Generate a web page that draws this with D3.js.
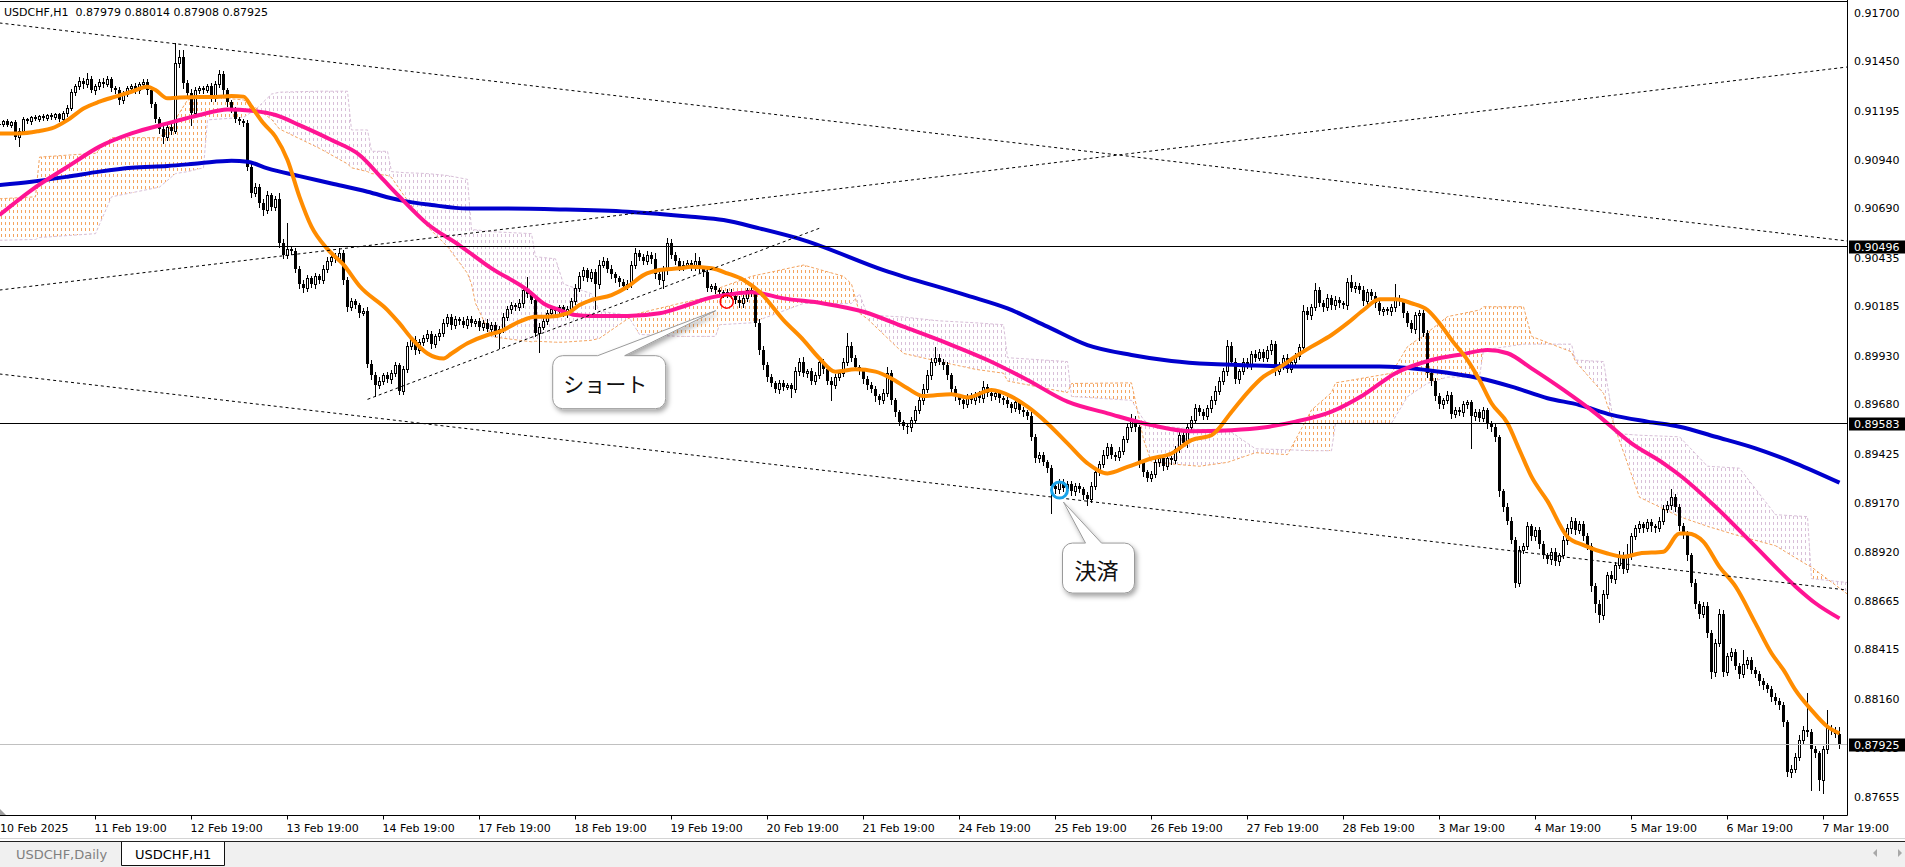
<!DOCTYPE html>
<html><head><meta charset="utf-8">
<script src="https://cdn.jsdelivr.net/npm/d3@7"></script>
<style>html,body{margin:0;padding:0;background:#fff;overflow:hidden}</style>
</head><body>
<svg id="c" width="1905" height="867"></svg>
<script>
// ---------------- DATA (prices in points: 91700 = 0.91700) ----------------
const symbol = "USDCHF,H1";
const tabs = ["USDCHF,Daily", "USDCHF,H1"];
const dateLabels = ["10 Feb 2025","11 Feb 19:00","12 Feb 19:00","13 Feb 19:00","14 Feb 19:00","17 Feb 19:00","18 Feb 19:00","19 Feb 19:00","20 Feb 19:00","21 Feb 19:00","24 Feb 19:00","25 Feb 19:00","26 Feb 19:00","27 Feb 19:00","28 Feb 19:00","3 Mar 19:00","4 Mar 19:00","5 Mar 19:00","6 Mar 19:00","7 Mar 19:00"];
const barsPerDay = 24;
const priceTicks = [91700,91450,91195,90940,90690,90435,90185,89930,89680,89425,89170,88920,88665,88415,88160,87905,87655];
const hLevels = [90496, 89583];
const firstOpen = 91120;
const closes = [
91125,91140,91120,91135,91060,91090,91150,91140,91160,91150,91165,91155,91170,91160,91175,91150,91180,91210,91290,91320,
91350,91330,91360,91300,91320,91345,91330,91360,91310,91300,91250,91280,91310,91320,91300,91330,91340,91300,91230,91150,
91100,91060,91110,91090,91440,91470,91335,91284,91180,91300,91310,91300,91320,91260,91330,91385,91300,91240,91200,91150,
91140,91130,90905,90770,90800,90720,90680,90760,90700,90740,90510,90450,90480,90470,90380,90300,90280,90330,90300,90340,
90320,90380,90420,90440,90430,90460,90320,90180,90210,90190,90150,90160,89890,89830,89780,89800,89830,89810,89840,89880,
89750,89860,89980,90010,89960,90000,90020,90040,89990,90030,90050,90100,90130,90090,90120,90110,90090,90120,90100,90110,
90080,90100,90070,90090,90050,90070,90130,90170,90190,90180,90200,90270,90250,90220,90050,90080,90110,90150,90170,90160,
90180,90150,90170,90210,90280,90340,90370,90330,90360,90300,90400,90420,90380,90350,90330,90310,90290,90300,90400,90460,
90440,90420,90450,90430,90350,90320,90370,90510,90450,90420,90390,90400,90410,90390,90420,90380,90360,90280,90290,90270,
90260,90250,90260,90240,90220,90200,90230,90270,90250,90100,89960,89880,89820,89790,89760,89790,89770,89780,89760,89850,
89900,89840,89850,89800,89830,89900,89860,89800,89780,89820,89840,89900,89980,89920,89870,89850,89810,89780,89760,89720,
89700,89740,89840,89700,89640,89590,89570,89560,89600,89650,89700,89760,89830,89900,89920,89900,89880,89830,89760,89720,
89700,89680,89720,89700,89730,89710,89770,89740,89720,89740,89710,89700,89680,89660,89690,89650,89640,89620,89510,89400,
89420,89380,89350,89260,89240,89280,89250,89270,89230,89260,89240,89210,89190,89260,89330,89370,89420,89460,89420,89410,
89440,89500,89560,89600,89560,89380,89330,89300,89320,89380,89400,89360,89400,89390,89450,89520,89480,89560,89600,89660,
89640,89620,89660,89700,89750,89800,89850,89980,89900,89810,89850,89900,89880,89940,89920,89950,89920,89960,89990,89850,
89880,89920,89860,89900,89930,89975,90160,90140,90180,90270,90200,90180,90230,90190,90220,90200,90190,90310,90280,90290,
90270,90210,90260,90240,90200,90160,90170,90160,90180,90230,90210,90150,90100,90070,90140,90150,90050,89840,89800,89720,
89680,89700,89730,89630,89650,89640,89680,89690,89620,89640,89610,89650,89580,89560,89510,89230,89150,89080,88980,88760,
88930,88950,89050,89000,89030,88960,88900,88880,88920,88870,88900,88980,89040,89080,89030,89060,89000,88950,88740,88650,
88590,88700,88800,88780,88850,88900,88830,88900,89000,89040,89060,89040,89070,89050,89040,89080,89140,89160,89200,89150,
89050,89010,88900,88760,88650,88600,88640,88500,88300,88450,88600,88300,88380,88400,88330,88290,88340,88360,88310,88290,
88250,88230,88210,88170,88150,88130,88040,87780,87800,87860,87950,88000,87990,87900,87880,87740,87900,88010,88000,87979,
87925];
const upWick = [
10,8,12,6,9,14,10,7,9,12,6,10,8,11,7,9,12,15,18,14,
20,12,30,15,10,12,18,14,10,12,16,14,12,10,18,12,20,16,14,10,
12,15,14,20,102,40,35,18,20,15,12,14,10,16,20,20,12,14,10,12,
10,14,18,16,22,14,20,18,12,16,30,20,136,18,14,12,20,16,14,18,
12,18,20,16,22,24,14,16,20,14,12,18,22,16,14,20,12,18,16,20,
14,18,22,16,20,14,18,22,16,14,20,22,18,16,14,12,20,16,14,12,
16,14,18,14,12,12,20,18,16,14,22,20,68,16,14,18,20,16,14,12,
14,12,16,20,18,22,16,14,18,20,22,18,14,16,12,14,16,22,20,24,
18,14,20,16,30,18,22,25,20,16,14,18,16,14,40,18,14,16,12,14,
12,10,14,12,10,16,14,12,20,14,18,22,16,14,12,16,14,12,10,20,
16,22,14,18,16,20,14,12,18,16,14,20,65,22,16,14,12,18,16,14,
12,16,30,18,14,12,10,14,16,20,18,22,24,20,57,18,14,16,12,14,
12,16,14,18,12,16,30,14,12,16,14,12,18,14,12,16,14,12,18,14,
16,14,12,18,14,16,12,14,16,12,14,12,16,18,20,16,22,18,14,16,
20,18,22,30,18,14,16,12,14,18,16,14,18,12,14,20,16,18,20,22,
16,14,18,20,22,18,16,32,20,16,14,18,16,14,18,16,14,18,20,14,
16,14,18,16,12,18,30,20,16,35,14,16,18,14,16,12,14,20,37,18,
14,18,16,14,18,16,14,12,18,70,16,14,12,14,18,16,14,12,16,14,
16,14,18,12,14,16,18,14,12,16,14,18,12,14,16,12,14,18,16,14,
18,16,22,14,18,16,12,14,18,16,14,20,22,18,14,20,16,14,12,16,
18,20,16,22,18,24,20,60,18,16,20,14,18,16,14,20,18,22,45,16,
14,16,18,14,20,16,22,18,16,20,24,18,16,20,18,16,71,18,16,14,
16,18,14,16,18,14,16,12,18,20,22,18,188,14,16,12,18,92,16,14,
35];
const downWick = [
8,10,6,12,14,50,8,10,12,6,9,8,11,7,10,9,8,12,10,14,
12,16,14,10,18,12,14,10,16,12,20,14,10,12,16,14,12,18,14,16,
20,34,16,18,12,20,22,18,60,16,14,12,10,14,16,12,18,20,14,16,
12,14,18,22,16,20,24,14,18,16,20,18,14,16,20,18,22,16,14,18,
16,14,18,20,16,14,18,20,14,16,18,12,20,22,60,18,16,14,20,16,
18,18,14,16,20,18,14,16,20,14,18,16,14,20,16,18,14,16,18,14,
16,18,14,16,20,82,16,14,18,16,14,18,16,20,18,100,14,16,18,14,
16,14,18,16,14,18,20,16,14,130,18,14,16,20,18,22,16,18,14,16,
18,14,16,20,18,22,40,16,14,18,20,16,14,18,16,20,18,14,16,18,
14,16,18,14,16,18,20,16,14,18,20,16,22,18,16,20,18,14,41,16,
18,14,20,16,18,14,20,16,79,18,14,16,20,18,16,14,18,20,16,22,
18,16,20,18,22,16,20,30,18,16,14,18,16,20,18,14,16,18,20,16,
18,20,16,14,18,16,20,18,16,14,18,20,16,18,14,16,20,18,16,20,
18,16,22,143,20,18,16,20,18,16,14,18,30,16,18,14,16,18,20,16,
18,16,14,20,18,22,20,18,16,14,18,20,16,18,14,16,18,20,16,14,
18,16,14,20,18,16,14,18,20,22,18,16,14,18,16,14,18,16,20,18,
16,18,14,16,20,18,16,22,18,16,14,18,16,20,18,16,14,18,16,20,
18,16,20,18,16,14,18,16,20,18,16,22,18,16,20,130,18,20,22,18,
20,18,16,22,18,16,20,18,167,20,18,16,22,18,20,24,22,20,18,21,
18,20,16,22,18,20,16,18,22,20,18,16,20,22,18,16,20,18,22,42,
32,20,22,18,20,16,22,18,20,16,18,20,16,22,18,16,20,18,22,20,
18,20,22,18,20,22,18,20,34,24,20,22,18,20,16,22,18,20,16,18,
20,18,16,20,18,22,20,20,24,20,18,22,20,210,18,50,68,18,20,16,
17];

// Moving averages (bar index, value)
const orangeBars = [0,5,10,13,17,21,25,29,33,37,39,42,45,50,54,58,61,63,66,69,72,75,78,82,86,90,97,100,103,107,111,113,117,122,125,130,134,137,142,145,148,153,157,161,165,170,173,178,182,186,190,196,201,205,209,214,219,223,227,231,238,242,248,253,257,262,267,272,277,282,288,293,298,303,308,312,316,320,324,328,333,337,341,345,349,353,357,360,363,367,370,373,377,380,383,387,392,396,402,406,410,416,420,422,426,430,434,439,443,446,449,453,457,460];
const orangeMA = [91077,91077,91090,91103,91146,91206,91241,91267,91292,91318,91301,91258,91263,91265,91265,91270,91267,91215,91129,91060,90940,90750,90596,90480,90400,90290,90166,90097,90020,89942,89916,89942,89994,90037,90054,90106,90131,90131,90149,90192,90218,90243,90286,90346,90372,90381,90389,90381,90355,90321,90260,90114,90011,89916,89848,89860,89848,89813,89762,89722,89732,89715,89753,89719,89667,89581,89478,89375,89323,89357,89400,89426,89495,89520,89640,89740,89822,89870,89926,89977,90037,90098,90166,90221,90221,90201,90166,90098,90012,89908,89805,89685,89582,89444,89306,89180,88996,88953,88910,88893,88910,88919,89013,89013,88970,88841,88740,88549,88395,88309,88205,88102,88016,87982];
const pinkBars = [0,8,17,25,33,42,50,57,63,69,75,83,90,96,100,107,115,123,132,136,140,144,148,157,165,172,178,183,188,196,206,216,226,237,247,257,267,277,288,298,308,316,324,333,341,349,358,366,372,377,383,391,399,408,416,420,429,439,449,454,460];
const pinkMA = [90656,90785,90905,91009,91077,91129,91172,91201,91194,91172,91120,91043,90966,90837,90751,90610,90500,90381,90269,90200,90166,90140,90135,90135,90149,90192,90231,90248,90258,90226,90200,90157,90080,89994,89908,89805,89693,89633,89572,89540,89546,89560,89590,89642,89728,89840,89908,89939,89960,89943,89865,89754,89633,89478,89375,89315,89151,88945,88740,88653,88575];
const blueBars = [0,8,17,25,33,42,50,58,62,67,75,83,92,100,108,117,125,140,157,173,181,190,201,221,242,252,262,272,283,293,303,313,328,345,358,370,378,387,395,403,412,420,429,439,449,460];
const blueMA = [90811,90828,90854,90880,90900,90909,90923,90936,90931,90897,90857,90819,90776,90733,90708,90690,90690,90685,90673,90647,90630,90587,90527,90372,90240,90174,90080,89985,89934,89903,89887,89880,89874,89874,89853,89814,89771,89711,89676,89625,89590,89564,89512,89452,89375,89275];

// Ichimoku cloud spans
const cloudBars = [0,9,10,24,28,40,44,47,51,52,61,64,68,70,80,87,88,92,93,97,98,101,107,112,117,118,119,123,133,134,139,141,148,150,157,160,170,179,180,188,201,211,213,215,217,226,235,244,251,252,267,268,283,286,288,300,307,314,322,328,333,334,348,352,357,362,370,371,381,383,393,394,401,404,410,420,427,435,444,452,453,462];
const spanA = [90740,90750,90955,90975,91055,91055,91150,91250,91260,91267,91250,91210,91150,91100,91000,90920,90900,90880,90870,90860,90850,90760,90596,90493,90355,90300,90200,90028,90002,90005,90000,90000,90010,90020,90120,90150,90200,90240,90280,90340,90398,90340,90300,90150,90120,89942,89900,89860,89840,89800,89740,89787,89790,89500,89380,89360,89380,89430,89420,89650,89740,89790,89840,89977,90050,90132,90166,90183,90183,90030,89950,89900,89736,89550,89200,89100,89050,89000,88950,88850,88840,88700];
const spanB = [90526,90530,90540,90560,90750,90800,90870,90880,90900,91147,91160,91200,91280,91290,91295,91295,91095,91095,90985,90985,90880,90875,90870,90860,90840,90580,90580,90570,90560,90441,90430,90300,90250,90160,90140,90040,90030,90030,90090,90100,90200,90200,90200,90250,90140,90130,90110,90100,90090,89920,89900,89720,89700,89600,89570,89550,89550,89450,89445,89440,89440,89582,89582,89719,89788,89820,89820,89960,89990,89990,89990,89908,89900,89529,89520,89512,89360,89350,89110,89100,88780,88760];

// Trend lines: [bar, price] endpoints
const trendLines = [
  [[0, 91647], [462, 90522]],
  [[0, 90269], [462, 91420]],
  [[0, 89836], [462, 88721]],
  [[92, 89705], [205, 90588]]
];
// Annotations: bar, price
const shortMark = {bar: 181.8, price: 90209, label: "ショート"};
const exitMark = {bar: 265, price: 89237, label: "決済"};

// ---------------- DRAWING ----------------
const svg = d3.select('#c');
const axisX = 1847.5, plotBottom = 815.5;
const x = d3.scaleLinear().domain([0, 460]).range([-0.5, 1839.5]);
const y = d3.scaleLinear().domain([87655, 91700]).range([796.7, 12.7]);
const fmt = v => (v / 100000).toFixed(5);
const FONT = "'DejaVu Sans', sans-serif";

const defs = svg.append('defs');
defs.append('clipPath').attr('id', 'plotClip').append('rect')
  .attr('x', 0).attr('y', 1).attr('width', 1847).attr('height', 814);
function hatch(id, color) {
  const p = defs.append('pattern').attr('id', id).attr('patternUnits', 'userSpaceOnUse')
    .attr('width', 4).attr('height', 6);
  p.append('rect').attr('x', 1).attr('y', 0).attr('width', 1).attr('height', 3).attr('fill', color);
}
hatch('hA', '#F4A460');
hatch('hB', '#D8BFD8');
const sh = defs.append('filter').attr('id', 'shadow').attr('x', '-30%').attr('y', '-30%').attr('width', '170%').attr('height', '180%');
sh.append('feDropShadow').attr('dx', 2).attr('dy', 3).attr('stdDeviation', 2.5)
  .attr('flood-color', '#000').attr('flood-opacity', 0.35);

const cloud = cloudBars.map((b, i) => ({b, a: spanA[i], s: spanB[i]}));
const mkClip = (id, gen) => defs.append('clipPath').attr('id', id).append('path').attr('d', gen(cloud));
mkClip('belowA', d3.area().x(d => x(d.b)).y0(d => y(d.a)).y1(900));
mkClip('aboveB', d3.area().x(d => x(d.b)).y0(-10).y1(d => y(d.s)));
mkClip('belowB', d3.area().x(d => x(d.b)).y0(d => y(d.s)).y1(900));
mkClip('aboveA', d3.area().x(d => x(d.b)).y0(-10).y1(d => y(d.a)));

const plot = svg.append('g').attr('clip-path', 'url(#plotClip)');

// cloud hatching
const gA = plot.append('g').attr('clip-path', 'url(#belowA)').append('g').attr('clip-path', 'url(#aboveB)');
gA.append('rect').attr('x', 0).attr('y', 0).attr('width', 1848).attr('height', 816).attr('fill', 'url(#hA)');
const gB = plot.append('g').attr('clip-path', 'url(#belowB)').append('g').attr('clip-path', 'url(#aboveA)');
gB.append('rect').attr('x', 0).attr('y', 0).attr('width', 1848).attr('height', 816).attr('fill', 'url(#hB)');
plot.append('path').attr('d', d3.line().x(d => x(d.b)).y(d => y(d.s))(cloud))
  .attr('fill', 'none').attr('stroke', '#D8BFD8').attr('stroke-width', 1).attr('stroke-dasharray', '3,2');
plot.append('path').attr('d', d3.line().x(d => x(d.b)).y(d => y(d.a))(cloud))
  .attr('fill', 'none').attr('stroke', '#F4A460').attr('stroke-width', 1).attr('stroke-dasharray', '3,2');

// candles
const bars = closes.map((c, i) => {
  const o = i ? closes[i - 1] : firstOpen;
  return {i, o, c, h: Math.max(o, c) + upWick[i], l: Math.min(o, c) - downWick[i]};
});
const cg = plot.append('g').attr('shape-rendering', 'crispEdges');
bars.forEach(d => {
  const xc = x(d.i);
  cg.append('line').attr('x1', xc).attr('x2', xc).attr('y1', Math.round(y(d.h))).attr('y2', Math.round(y(d.l)) + 1)
    .attr('stroke', '#000').attr('stroke-width', 1);
  const top = Math.round(y(Math.max(d.o, d.c))), bot = Math.round(y(Math.min(d.o, d.c)));
  if (d.c > d.o && bot - top >= 2) {
    cg.append('rect').attr('x', xc - 1).attr('y', top + 0.5).attr('width', 2).attr('height', bot - top)
      .attr('fill', '#fff').attr('stroke', '#000').attr('stroke-width', 1);
  } else {
    cg.append('rect').attr('x', xc - 1.5).attr('y', top).attr('width', 3).attr('height', Math.max(bot - top, 1))
      .attr('fill', '#000');
  }
});

// moving averages
const maLine = d3.line().x(d => x(d[0])).y(d => y(d[1])).curve(d3.curveMonotoneX);
[[blueBars, blueMA, '#0000CD'], [pinkBars, pinkMA, '#FF1493'], [orangeBars, orangeMA, '#FF8C00']].forEach(([b, v, col]) => {
  plot.append('path').attr('d', maLine(b.map((bb, i) => [bb, v[i]])))
    .attr('fill', 'none').attr('stroke', col).attr('stroke-width', 4).attr('stroke-linejoin', 'round');
});

// horizontal levels and bid line
hLevels.forEach(v => {
  plot.append('line').attr('x1', 0).attr('x2', axisX).attr('y1', Math.round(y(v)) + 0.5).attr('y2', Math.round(y(v)) + 0.5)
    .attr('stroke', '#000').attr('stroke-width', 1);
});
const last = bars[bars.length - 1];
plot.append('line').attr('x1', 0).attr('x2', axisX).attr('y1', Math.round(y(last.c)) + 0.5).attr('y2', Math.round(y(last.c)) + 0.5)
  .attr('stroke', '#c0c0c0').attr('stroke-width', 1);

// trend lines
trendLines.forEach(tl => {
  plot.append('line').attr('x1', x(tl[0][0])).attr('y1', y(tl[0][1])).attr('x2', x(tl[1][0])).attr('y2', y(tl[1][1]))
    .attr('stroke', '#000').attr('stroke-width', 1).attr('stroke-dasharray', '3,3');
});

// marker circles
const sx = x(shortMark.bar), sy = y(shortMark.price);
const ex = x(exitMark.bar), ey = y(exitMark.price);
plot.append('circle').attr('cx', sx).attr('cy', sy).attr('r', 6.5).attr('fill', 'none').attr('stroke', '#ff0000').attr('stroke-width', 1.6);
plot.append('circle').attr('cx', ex).attr('cy', ey).attr('r', 8).attr('fill', 'none').attr('stroke', '#1aa3e8').attr('stroke-width', 3);

// callouts
function callout(L, T, w, h, b1, b2, tx, ty, text, fs, dx) {
  const R = L + w, B = T + h, r = 10;
  const p = `M${L + r},${T} L${b1},${T} L${tx},${ty} L${b2},${T} L${R - r},${T} A${r},${r} 0 0 1 ${R},${T + r} L${R},${B - r} A${r},${r} 0 0 1 ${R - r},${B} L${L + r},${B} A${r},${r} 0 0 1 ${L},${B - r} L${L},${T + r} A${r},${r} 0 0 1 ${L + r},${T} Z`;
  svg.append('path').attr('d', p).attr('fill', '#fff').attr('stroke', '#9a9a9a').attr('stroke-width', 1).attr('filter', 'url(#shadow)');
  svg.append('text').attr('x', L + w / 2 + dx).attr('y', T + h / 2 + 1).attr('text-anchor', 'middle')
    .attr('dominant-baseline', 'central').attr('font-family', "'Noto Sans CJK JP', sans-serif")
    .attr('font-size', fs).attr('fill', '#111').text(text);
}
callout(sx - 174, sy + 54, 113, 53, sx - 129, sx - 102, sx - 11, sy + 9, shortMark.label, 21, -4);
callout(ex + 3, ey + 53, 72, 50, ex + 26, ex + 42, ex + 4, ey + 12, exitMark.label, 22, -2);

// frame
svg.append('line').attr('x1', 0).attr('x2', axisX).attr('y1', 1.5).attr('y2', 1.5).attr('stroke', '#000');
svg.append('line').attr('x1', axisX).attr('x2', axisX).attr('y1', 0).attr('y2', plotBottom).attr('stroke', '#000');
svg.append('line').attr('x1', 0).attr('x2', axisX).attr('y1', plotBottom).attr('y2', plotBottom).attr('stroke', '#000');
svg.append('polygon').attr('points', '0,809 6,815 0,815').attr('fill', '#a0a0a0');

// header
svg.append('text').attr('x', 4).attr('y', 16).attr('font-family', FONT).attr('font-size', 11).text(symbol);
svg.append('text').attr('x', 75.5).attr('y', 16).attr('font-family', FONT).attr('font-size', 11)
  .text([last.o, last.h, last.l, last.c].map(fmt).join(' '));

// price axis
const pa = svg.append('g').attr('font-family', FONT).attr('font-size', 11);
priceTicks.forEach(v => {
  pa.append('text').attr('x', 1854).attr('y', y(v) + 4).text(fmt(v));
});
[...hLevels, last.c].forEach(v => {
  const cy = Math.round(y(v)) + 0.5;
  pa.append('rect').attr('x', 1849).attr('y', cy - 6).attr('width', 56).attr('height', 13).attr('fill', '#000');
  pa.append('text').attr('x', 1854).attr('y', cy + 4.5).attr('fill', '#fff').text(fmt(v));
});

// time axis
const ta = svg.append('g').attr('font-family', FONT).attr('font-size', 11);
dateLabels.forEach((lab, k) => {
  const bi = k * barsPerDay;
  const tx = x(bi);
  if (k > 0) {
    ta.append('line').attr('x1', tx).attr('x2', tx).attr('y1', plotBottom).attr('y2', plotBottom + 4).attr('stroke', '#000');
    ta.append('text').attr('x', tx - 1).attr('y', 831.5).text(lab);
  } else {
    ta.append('text').attr('x', 0).attr('y', 831.5).text(lab);
  }
});

// tab bar
svg.append('line').attr('x1', 0).attr('x2', 1905).attr('y1', 838.5).attr('y2', 838.5).attr('stroke', '#d4d4d4');
svg.append('rect').attr('x', 0).attr('y', 841).attr('width', 1905).attr('height', 26).attr('fill', '#f0f0f0');
svg.append('line').attr('x1', 0).attr('x2', 1905).attr('y1', 841.5).attr('y2', 841.5).attr('stroke', '#222');
svg.append('path').attr('d', 'M121.5,842 L121.5,865.5 L224.5,865.5 L224.5,842').attr('fill', '#fff').attr('stroke', '#111');
svg.append('text').attr('x', 16).attr('y', 858.5).attr('font-family', FONT).attr('font-size', 13).attr('fill', '#808080').text(tabs[0]);
svg.append('text').attr('x', 135).attr('y', 858.5).attr('font-family', FONT).attr('font-size', 13).attr('fill', '#000').text(tabs[1]);
svg.append('polygon').attr('points', '1877,849 1873,853 1877,857').attr('fill', '#a8a8a8');
svg.append('polygon').attr('points', '1898,849 1902,853 1898,857').attr('fill', '#a8a8a8');
</script>
</body></html>
